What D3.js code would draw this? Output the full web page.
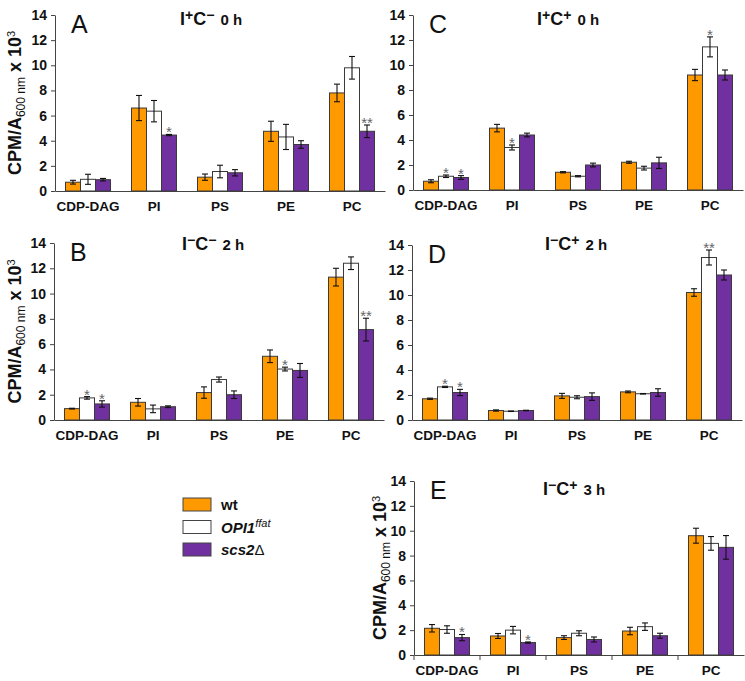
<!DOCTYPE html>
<html>
<head>
<meta charset="utf-8">
<script src="https://cdn.jsdelivr.net/npm/d3@7"></script>
<style>
	body { margin: 0; background: #fff; }
	svg { font-family: "Liberation Sans", Arial, sans-serif; }
</style>
</head>
<body>
<script>
var categories = ["CDP-DAG", "PI", "PS", "PE", "PC"];
var series = ["wt", "OPI1", "scs2"];
var seriesColors = ["#FF9900", "#FFFFFF", "#7030A0"];
var yTicks = [0, 2, 4, 6, 8, 10, 12, 14];

// values per category: [wt, OPI1ffat, scs2Δ]
var valuesA = [[0.7, 0.93, 0.9], [6.6, 6.35, 4.45], [1.1, 1.55, 1.45], [4.75, 4.3, 3.7], [7.8, 9.8, 4.75]];
var errorsA = [[0.15, 0.4, 0.1], [1.0, 0.85, 0.05], [0.25, 0.5, 0.25], [0.8, 1.0, 0.3], [0.7, 0.9, 0.5]];
var starsA = [["", "", ""], ["", "", "*"], ["", "", ""], ["", "", ""], ["", "", "**"]];

var valuesB = [[0.9, 1.75, 1.27], [1.4, 0.88, 1.05], [2.17, 3.2, 2.0], [5.04, 4.03, 3.92], [11.3, 12.4, 7.15]];
var errorsB = [[0.03, 0.1, 0.25], [0.3, 0.3, 0.07], [0.45, 0.2, 0.3], [0.5, 0.15, 0.55], [0.7, 0.5, 0.9]];
var starsB = [["", "*", "*"], ["", "", ""], ["", "", ""], ["", "*", ""], ["", "", "**"]];

var valuesC = [[0.7, 1.1, 1.0], [4.95, 3.4, 4.4], [1.42, 1.1, 2.0], [2.22, 1.75, 2.17], [9.2, 11.45, 9.2]];
var errorsC = [[0.12, 0.1, 0.15], [0.3, 0.2, 0.15], [0.05, 0.05, 0.15], [0.08, 0.15, 0.45], [0.45, 0.8, 0.4]];
var starsC = [["", "*", "*"], ["", "*", ""], ["", "", ""], ["", "", ""], ["", "*", ""]];

var valuesD = [[1.7, 2.65, 2.2], [0.76, 0.7, 0.76], [1.93, 1.82, 1.87], [2.25, 2.1, 2.2], [10.2, 13.0, 11.6]];
var errorsD = [[0.05, 0.05, 0.25], [0.05, 0.02, 0.02], [0.2, 0.12, 0.3], [0.07, 0.02, 0.3], [0.3, 0.6, 0.4]];
var starsD = [["", "*", "*"], ["", "", ""], ["", "", ""], ["", "", ""], ["", "**", ""]];

var valuesE = [[2.15, 2.05, 1.4], [1.53, 2.0, 1.0], [1.4, 1.75, 1.25], [1.93, 2.28, 1.55], [9.6, 8.98, 8.66]];
var errorsE = [[0.3, 0.3, 0.25], [0.2, 0.3, 0.05], [0.15, 0.2, 0.2], [0.3, 0.3, 0.2], [0.6, 0.55, 0.95]];
var starsE = [["", "", "*"], ["", "", "*"], ["", "", ""], ["", "", ""], ["", "", ""]];

var width = 745,
	height = 681;

var svg = d3.select("body").append("svg")
	.attr("width", width)
	.attr("height", height);

var panels = [
	{letter: "A", sign: ["+", "\u2212"], time: "0 h", values: valuesA, errors: errorsA, stars: starsA,
		x0: 55, top: 15, bottom: 191, ylabel: 21, xticks: false, titleX: 180, titleY: 25},
	{letter: "B", sign: ["\u2212", "\u2212"], time: "2 h", values: valuesB, errors: errorsB, stars: starsB,
		x0: 54, top: 243, bottom: 420, ylabel: 21, xticks: false, titleX: 182, titleY: 250},
	{letter: "C", sign: ["+", "+"], time: "0 h", values: valuesC, errors: errorsC, stars: starsC,
		x0: 413, top: 15, bottom: 190, ylabel: null, xticks: false, titleX: 537, titleY: 25},
	{letter: "D", sign: ["\u2212", "+"], time: "2 h", values: valuesD, errors: errorsD, stars: starsD,
		x0: 412, top: 245, bottom: 420, ylabel: null, xticks: false, titleX: 545, titleY: 250},
	{letter: "E", sign: ["\u2212", "+"], time: "3 h", values: valuesE, errors: errorsE, stars: starsE,
		x0: 414, top: 481, bottom: 655, ylabel: 386, xticks: true, titleX: 543, titleY: 495}
];

panels.forEach(drawPanel);
drawLegend();

function drawPanel(p){
	var g = svg.append("g").attr("class", "panel-" + p.letter);

	var y = d3.scaleLinear().domain([0, 14]).range([p.bottom, p.top]);
	var x = d3.scaleBand()
		.domain(categories)
		.range([p.x0, p.x0 + 330])
		.paddingInner(0.318)
		.paddingOuter(0.159);
	var xs = d3.scaleBand().domain(series).range([0, x.bandwidth()]);

	// y axis
	var yAxis = g.append("g")
		.attr("transform", "translate(" + p.x0 + ",0)")
		.call(d3.axisLeft(y).tickValues(yTicks).tickSize(4).tickPadding(4).tickSizeOuter(0));
	yAxis.select(".domain").attr("stroke", "#444");
	yAxis.selectAll(".tick line").attr("stroke", "#444");
	yAxis.selectAll(".tick text")
		.attr("fill", "#111")
		.style("font-size", "14px")
		.style("font-weight", "bold")
		.style("font-family", "Liberation Sans, Arial, sans-serif");

	// x axis
	var xAxis = g.append("g")
		.attr("transform", "translate(0," + p.bottom + ")")
		.call(d3.axisBottom(x).tickSize(0).tickPadding(10).tickSizeOuter(0));
	xAxis.select(".domain").attr("stroke", "#444");
	xAxis.selectAll(".tick text")
		.attr("fill", "#111")
		.style("font-size", "13.5px")
		.style("font-weight", "bold")
		.style("font-family", "Liberation Sans, Arial, sans-serif");

	if(p.xticks){
		var half = (x.step() - x.bandwidth()) / 2;
		g.selectAll(".xtick")
			.data(categories)
			.enter().append("line")
			.attr("class", "xtick")
			.attr("x1", function(d){ return x(d) - half; })
			.attr("x2", function(d){ return x(d) - half; })
			.attr("y1", p.bottom)
			.attr("y2", p.bottom + 5)
			.attr("stroke", "#444");
	}

	// flatten data
	var rows = [];
	categories.forEach(function(c, i){
		series.forEach(function(s, j){
			rows.push({cat: c, ser: s, j: j, v: p.values[i][j], e: p.errors[i][j], star: p.stars[i][j]});
		});
	});

	g.selectAll("rect.bar")
		.data(rows)
		.enter().append("rect")
		.attr("class", "bar")
		.attr("x", function(d){ return x(d.cat) + xs(d.ser); })
		.attr("y", function(d){ return y(d.v); })
		.attr("width", xs.bandwidth())
		.attr("height", function(d){ return y(0) - y(d.v); })
		.attr("fill", function(d){ return seriesColors[d.j]; })
		.attr("stroke", "#3a3a3a")
		.attr("stroke-width", 1);

	var eb = g.selectAll("g.err")
		.data(rows)
		.enter().append("g")
		.attr("class", "err")
		.attr("transform", function(d){ return "translate(" + (x(d.cat) + xs(d.ser) + xs.bandwidth() / 2) + ",0)"; })
		.attr("stroke", "#111")
		.attr("stroke-width", 1.1);
	eb.append("line")
		.attr("y1", function(d){ return y(d.v - d.e); })
		.attr("y2", function(d){ return y(d.v + d.e); });
	eb.append("line")
		.attr("x1", -3).attr("x2", 3)
		.attr("y1", function(d){ return y(d.v - d.e); })
		.attr("y2", function(d){ return y(d.v - d.e); });
	eb.append("line")
		.attr("x1", -3).attr("x2", 3)
		.attr("y1", function(d){ return y(d.v + d.e); })
		.attr("y2", function(d){ return y(d.v + d.e); });

	g.selectAll("text.star")
		.data(rows.filter(function(d){ return d.star; }))
		.enter().append("text")
		.attr("class", "star")
		.attr("x", function(d){ return x(d.cat) + xs(d.ser) + xs.bandwidth() / 2; })
		.attr("y", function(d){ return y(d.v + d.e) + 3; })
		.attr("text-anchor", "middle")
		.attr("fill", "#666")
		.style("font-size", "15px")
		.text(function(d){ return d.star; });

	// panel letter
	g.append("text")
		.attr("x", p.x0 + 16)
		.attr("y", p.top + 18)
		.style("font-size", "25px")
		.attr("fill", "#111")
		.text(p.letter);

	// title
	var t = g.append("text")
		.attr("x", p.titleX)
		.attr("y", p.titleY)
		.attr("fill", "#111")
		.style("font-weight", "bold");
	t.append("tspan").style("font-size", "18px").text("I");
	t.append("tspan").style("font-size", "14px").attr("dy", -5).text(p.sign[0]);
	t.append("tspan").style("font-size", "18px").attr("dy", 5).text("C");
	t.append("tspan").style("font-size", "14px").attr("dy", -5).text(p.sign[1]);
	t.append("tspan").style("font-size", "15px").attr("dy", 5).attr("dx", 6).text(p.time);

	// y label
	if(p.ylabel !== null){
		var yl = g.append("text")
			.attr("transform", "translate(" + p.ylabel + "," + ((p.top + p.bottom) / 2) + ") rotate(-90)")
			.attr("text-anchor", "middle")
			.attr("fill", "#111")
			.style("font-weight", "bold")
			.style("font-size", "18px");
		yl.append("tspan").text("CPM/A");
		yl.append("tspan").style("font-size", "12px").style("font-weight", "normal").attr("dy", 4).text("600 nm");
		yl.append("tspan").attr("dy", -4).text(" x 10");
		yl.append("tspan").style("font-size", "11px").style("font-weight", "normal").attr("dy", -6).text("3");
	}
}

function drawLegend(){
	var labels = [
		[{t: "wt", s: "normal"}],
		[{t: "OPI1", s: "italic"}, {t: "ffat", s: "italic", sup: true}],
		[{t: "scs2", s: "italic"}, {t: "\u0394", s: "normal", thin: true}]
	];
	var lg = svg.append("g").attr("class", "legend");
	var items = lg.selectAll("g")
		.data(series)
		.enter().append("g")
		.attr("transform", function(d, i){ return "translate(183," + (498 + i * 22.5) + ")"; });
	items.append("rect")
		.attr("width", 28)
		.attr("height", 13)
		.attr("fill", function(d, i){ return seriesColors[i]; })
		.attr("stroke", "#444");
	items.append("text")
		.attr("x", 38)
		.attr("y", 12)
		.attr("fill", "#111")
		.style("font-size", "15px")
		.style("font-weight", "bold")
		.each(function(d, i){
			var txt = d3.select(this);
			labels[i].forEach(function(part){
				var ts = txt.append("tspan").style("font-style", part.s).text(part.t);
				if(part.sup){
					ts.style("font-size", "11px").style("font-weight", "normal").attr("dy", -6);
				}
				if(part.thin){
					ts.style("font-weight", "normal");
				}
			});
		});
}
</script>
</body>
</html>
